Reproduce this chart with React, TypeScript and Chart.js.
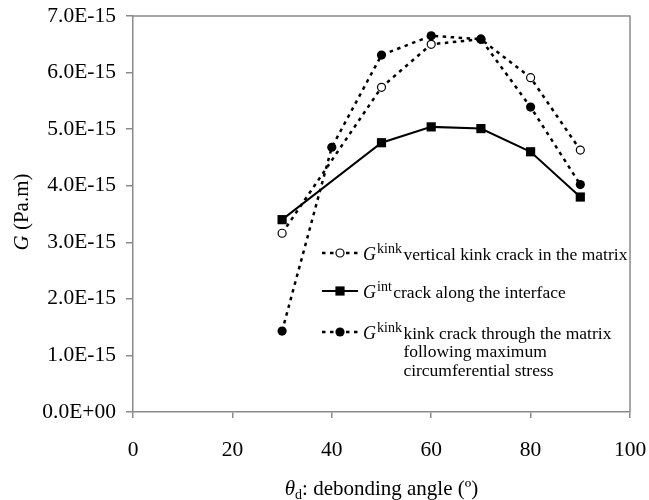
import { useEffect, useRef } from 'react';
import { Chart, registerables } from 'chart.js';

Chart.register(...registerables);

// Axis ticks
const xTickValues = [0, 20, 40, 60, 80, 100];
const yTickValues = [0, 1e-15, 2e-15, 3e-15, 4e-15, 5e-15, 6e-15, 7e-15];
const yTickLabels = ['0.0E+00', '1.0E-15', '2.0E-15', '3.0E-15', '4.0E-15', '5.0E-15', '6.0E-15', '7.0E-15'];

// G^kink: vertical kink crack in the matrix
const anglesVertical = [30, 50, 60, 70, 80, 90];
const gVertical = [3.16e-15, 5.74e-15, 6.5e-15, 6.59e-15, 5.91e-15, 4.63e-15];

// G^int: crack along the interface
const anglesInterface = [30, 50, 60, 70, 80, 90];
const gInterface = [3.4e-15, 4.76e-15, 5.04e-15, 5.01e-15, 4.6e-15, 3.8e-15];

// G^kink: kink crack following maximum circumferential stress
const anglesMcs = [30, 40, 50, 60, 70, 80, 90];
const gMcs = [1.43e-15, 4.68e-15, 6.31e-15, 6.65e-15, 6.59e-15, 5.39e-15, 4.02e-15];

const legendRows = [
  { kind: 'open', sup: 'kink', lines: ['vertical kink crack in the matrix'] },
  { kind: 'square', sup: 'int', lines: ['crack along the interface'] },
  { kind: 'filled', sup: 'kink', lines: ['kink crack through the matrix', 'following maximum', 'circumferential stress'] },
];

const SERIF = '"Liberation Serif", "Times New Roman", serif';
const AXIS_GREY = '#8a8a8a';
const DOTTED = [3.5, 4.5];
const TICK_FONT = 21.5;

const toPoints = (xs: number[], ys: number[]) => xs.map((x, i) => ({ x, y: ys[i] }));

function drawMarker(ctx: CanvasRenderingContext2D, kind: string, x: number, y: number) {
  ctx.save();
  ctx.setLineDash([]);
  ctx.strokeStyle = '#000';
  ctx.fillStyle = '#000';
  if (kind === 'square') {
    ctx.fillRect(x - 4.6, y - 4.6, 9.2, 9.2);
  } else if (kind === 'filled') {
    ctx.beginPath();
    ctx.arc(x, y, 4.6, 0, Math.PI * 2);
    ctx.fill();
  } else {
    ctx.fillStyle = '#fff';
    ctx.lineWidth = 1.2;
    ctx.beginPath();
    ctx.arc(x, y, 4, 0, Math.PI * 2);
    ctx.fill();
    ctx.stroke();
  }
  ctx.restore();
}

const decorations = {
  id: 'decorations',
  afterDraw(chart: Chart) {
    const ctx = chart.ctx;
    const a = chart.chartArea;
    ctx.save();

    // plot-area frame on the top and right
    ctx.strokeStyle = AXIS_GREY;
    ctx.lineWidth = 1.5;
    ctx.setLineDash([]);
    ctx.beginPath();
    ctx.moveTo(a.left, a.top);
    ctx.lineTo(a.right, a.top);
    ctx.lineTo(a.right, a.bottom);
    ctx.stroke();

    ctx.fillStyle = '#000';
    ctx.textBaseline = 'alphabetic';

    // y-axis title: G (Pa.m)
    ctx.save();
    ctx.translate(28, 212);
    ctx.rotate(-Math.PI / 2);
    ctx.font = `italic 21px ${SERIF}`;
    const gW = ctx.measureText('G').width;
    ctx.font = `21px ${SERIF}`;
    const restW = ctx.measureText(' (Pa.m)').width;
    const tx = -(gW + restW) / 2;
    ctx.font = `italic 21px ${SERIF}`;
    ctx.textAlign = 'left';
    ctx.fillText('G', tx, 0);
    ctx.font = `21px ${SERIF}`;
    ctx.fillText(' (Pa.m)', tx + gW, 0);
    ctx.restore();

    // x-axis title: θd: debonding angle (º)
    {
      const cx = (a.left + a.right) / 2;
      const base = 495;
      ctx.font = `italic 21px ${SERIF}`;
      const thW = ctx.measureText('θ').width;
      ctx.font = `14px ${SERIF}`;
      const dW = ctx.measureText('d').width;
      ctx.font = `21px ${SERIF}`;
      const tail = ': debonding angle (º)';
      const tailW = ctx.measureText(tail).width;
      let x = cx - (thW + dW + tailW) / 2;
      ctx.textAlign = 'left';
      ctx.font = `italic 21px ${SERIF}`;
      ctx.fillText('θ', x, base);
      x += thW;
      ctx.font = `14px ${SERIF}`;
      ctx.fillText('d', x, base + 4);
      x += dW;
      ctx.font = `21px ${SERIF}`;
      ctx.fillText(tail, x, base);
    }

    // legend
    const sampleL = 322;
    const sampleR = 358;
    const rowY = [253, 291, 332];
    legendRows.forEach((row, i) => {
      const y = rowY[i];
      ctx.save();
      ctx.strokeStyle = '#000';
      if (row.kind === 'square') {
        ctx.lineWidth = 2;
        ctx.setLineDash([]);
      } else {
        ctx.lineWidth = 2.5;
        ctx.setLineDash(DOTTED);
      }
      ctx.beginPath();
      ctx.moveTo(sampleL, y);
      ctx.lineTo(sampleR, y);
      ctx.stroke();
      ctx.restore();
      drawMarker(ctx, row.kind, (sampleL + sampleR) / 2, y);

      const base = y + 6.5;
      let x = 363;
      ctx.textAlign = 'left';
      ctx.font = `italic 18px ${SERIF}`;
      ctx.fillText('G', x, base);
      x += ctx.measureText('G').width + 1;
      ctx.font = `14px ${SERIF}`;
      ctx.fillText(row.sup, x, base - 7);
      x += ctx.measureText(row.sup).width + 1.5;
      ctx.font = `17.5px ${SERIF}`;
      row.lines.forEach((line, j) => {
        ctx.fillText(line, x, base + j * 18.5);
      });
    });

    ctx.restore();
  },
};

export default function App() {
  const canvasRef = useRef<HTMLCanvasElement | null>(null);

  useEffect(() => {
    const canvas = canvasRef.current;
    if (!canvas) return;

    const lineCommon = {
      borderColor: '#000',
      pointBorderColor: '#000',
      tension: 0,
      fill: false,
    };

    const chart = new Chart(canvas, {
      type: 'line',
      data: {
        datasets: [
          {
            ...lineCommon,
            label: 'Gkink vertical kink crack in the matrix',
            data: toPoints(anglesVertical, gVertical),
            borderWidth: 2.5,
            borderDash: DOTTED,
            pointStyle: 'circle',
            pointRadius: 4,
            pointBorderWidth: 1.2,
            pointBackgroundColor: '#fff',
            order: 2,
          },
          {
            ...lineCommon,
            label: 'Gint crack along the interface',
            data: toPoints(anglesInterface, gInterface),
            borderWidth: 2,
            pointStyle: 'rect',
            pointRadius: 6.5,
            pointBorderWidth: 0,
            pointBackgroundColor: '#000',
            order: 1,
          },
          {
            ...lineCommon,
            label: 'Gkink kink crack through the matrix following maximum circumferential stress',
            data: toPoints(anglesMcs, gMcs),
            borderWidth: 2.5,
            borderDash: DOTTED,
            pointStyle: 'circle',
            pointRadius: 4.6,
            pointBorderWidth: 0,
            pointBackgroundColor: '#000',
            order: 0,
          },
        ],
      },
      options: {
        responsive: false,
        animation: false,
        layout: { padding: { top: 16, right: 19, left: 0, bottom: 0 } },
        plugins: {
          legend: { display: false },
          title: { display: false },
          tooltip: { enabled: false },
        },
        scales: {
          x: {
            type: 'linear',
            min: 0,
            max: 100,
            afterFit: (s: any) => {
              s.height = 88;
              s.paddingLeft = 0;
              s.paddingRight = 0;
            },
            afterBuildTicks: (s: any) => {
              s.ticks = xTickValues.map((v) => ({ value: v }));
            },
            grid: {
              drawOnChartArea: false,
              drawTicks: true,
              tickLength: 6,
              color: AXIS_GREY,
              lineWidth: 1.5,
            },
            border: { display: true, color: AXIS_GREY, width: 1.5 },
            ticks: {
              color: '#000',
              padding: 19,
              maxRotation: 0,
              font: { family: SERIF, size: TICK_FONT },
              callback: (v: any) => String(v),
            },
          },
          y: {
            type: 'linear',
            min: 0,
            max: 7e-15,
            afterFit: (s: any) => {
              s.width = 133;
              s.paddingTop = 0;
              s.paddingBottom = 0;
            },
            afterBuildTicks: (s: any) => {
              s.ticks = yTickValues.map((v) => ({ value: v }));
            },
            grid: {
              drawOnChartArea: false,
              drawTicks: true,
              tickLength: 7,
              color: AXIS_GREY,
              lineWidth: 1.5,
            },
            border: { display: true, color: AXIS_GREY, width: 1.5 },
            ticks: {
              color: '#000',
              padding: 10,
              font: { family: SERIF, size: TICK_FONT },
              callback: (_v: any, i: number) => yTickLabels[i],
            },
          },
        },
      },
      plugins: [decorations],
    });

    return () => chart.destroy();
  }, []);

  return (
    <div style={{ position: 'absolute', left: 0, top: 0, width: 649, height: 500, background: '#fff' }}>
      <canvas ref={canvasRef} width={649} height={500} style={{ display: 'block' }} />
    </div>
  );
}
